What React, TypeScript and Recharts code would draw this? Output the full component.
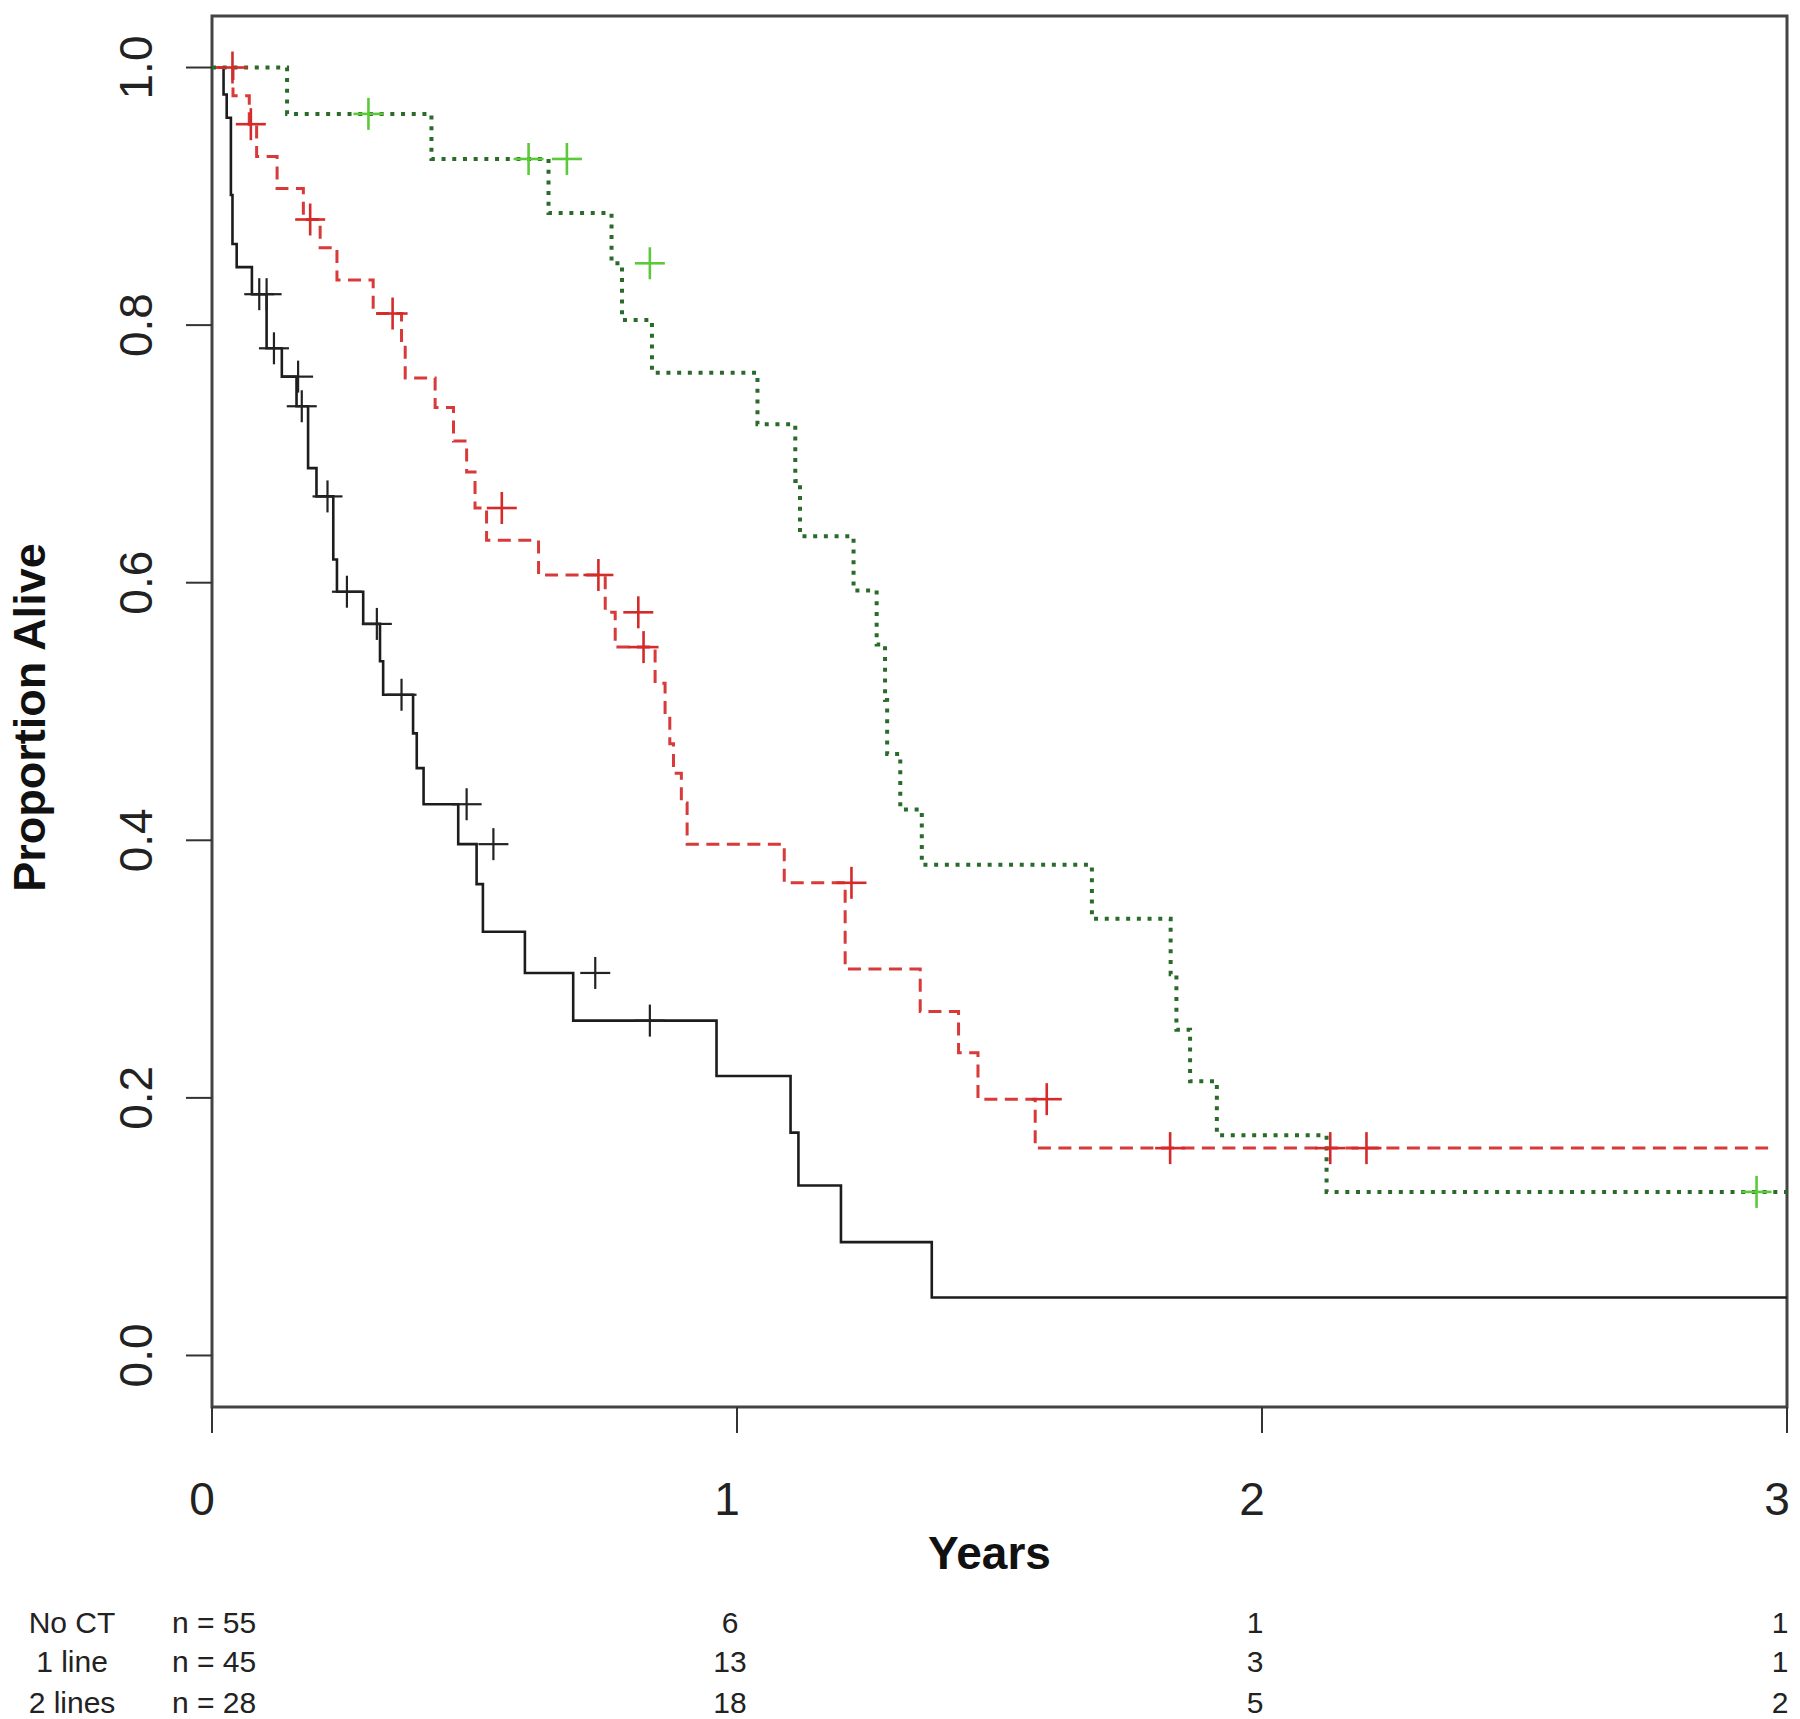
import { ComposedChart, Line, Scatter, XAxis, YAxis, ReferenceArea, Label } from 'recharts'

// Kaplan-Meier step points (time in years, proportion alive)
const noCtTime = [0, 0.022, 0.028, 0.036, 0.039, 0.047, 0.076, 0.104, 0.133, 0.161, 0.183, 0.199, 0.231, 0.238, 0.288, 0.32, 0.326, 0.383, 0.39, 0.403, 0.469, 0.504, 0.516, 0.596, 0.688, 0.961, 1.102, 1.117, 1.198, 1.371, 3.0]
const noCtSurv = [1.0, 0.979, 0.961, 0.901, 0.863, 0.845, 0.824, 0.782, 0.76, 0.737, 0.689, 0.667, 0.618, 0.593, 0.568, 0.539, 0.513, 0.483, 0.456, 0.428, 0.397, 0.366, 0.329, 0.297, 0.26, 0.217, 0.173, 0.132, 0.088, 0.045, 0.045]
const noCtCensorTime = [0.09, 0.104, 0.118, 0.164, 0.171, 0.22, 0.257, 0.314, 0.361, 0.485, 0.536, 0.73, 0.834]
const noCtCensorSurv = [0.824, 0.824, 0.782, 0.76, 0.737, 0.667, 0.593, 0.568, 0.513, 0.428, 0.397, 0.297, 0.26]

const oneLineTime = [0, 0.04, 0.071, 0.085, 0.124, 0.174, 0.206, 0.238, 0.307, 0.361, 0.368, 0.425, 0.46, 0.485, 0.501, 0.523, 0.622, 0.749, 0.768, 0.844, 0.863, 0.872, 0.879, 0.894, 0.905, 1.09, 1.206, 1.349, 1.422, 1.459, 1.568, 2.964]
const oneLineSurv = [1.0, 0.978, 0.956, 0.931, 0.906, 0.882, 0.86, 0.835, 0.809, 0.784, 0.759, 0.736, 0.71, 0.686, 0.658, 0.633, 0.606, 0.577, 0.55, 0.522, 0.497, 0.475, 0.452, 0.429, 0.397, 0.367, 0.3, 0.267, 0.235, 0.199, 0.161, 0.161]
const oneLineCensorTime = [0.039, 0.074, 0.187, 0.344, 0.552, 0.736, 0.812, 0.822, 1.218, 1.59, 1.825, 2.13, 2.199]
const oneLineCensorSurv = [1.0, 0.956, 0.882, 0.809, 0.658, 0.606, 0.577, 0.55, 0.367, 0.199, 0.161, 0.161, 0.161]

const twoLinesTime = [0, 0.143, 0.418, 0.641, 0.761, 0.781, 0.838, 1.039, 1.111, 1.12, 1.222, 1.266, 1.282, 1.286, 1.311, 1.352, 1.676, 1.826, 1.837, 1.863, 1.914, 2.123, 3.0]
const twoLinesSurv = [1.0, 0.964, 0.929, 0.887, 0.848, 0.804, 0.763, 0.723, 0.679, 0.636, 0.594, 0.552, 0.509, 0.467, 0.424, 0.381, 0.339, 0.296, 0.253, 0.213, 0.171, 0.127, 0.127]
const twoLinesCensorTime = [0.298, 0.603, 0.676, 0.834, 2.942]
const twoLinesCensorSurv = [0.964, 0.929, 0.929, 0.848, 0.127]

// number at risk table
const riskGroups = ['No CT', '1 line', '2 lines']
const riskTimes = [0, 1, 2, 3]
const riskNoCt = [55, 6, 1, 1]
const riskOneLine = [45, 13, 3, 1]
const riskTwoLines = [28, 18, 5, 2]
const riskRows = [riskNoCt, riskOneLine, riskTwoLines]

const yTicks = [0, 0.2, 0.4, 0.6, 0.8, 1.0]

type Pt = { t: number; s: number }
const zip = (t: number[], s: number[]): Pt[] => t.map((v, i) => ({ t: v, s: s[i] }))

const FONT = '"Liberation Sans", Arial, Helvetica, sans-serif'

function Plus(props: any) {
  const { cx, cy, color, width } = props
  if (cx == null || cy == null) return null
  return (
    <g>
      <line x1={cx - 15} y1={cy} x2={cx + 15} y2={cy} stroke={color} strokeWidth={width} />
      <line x1={cx} y1={cy - 16} x2={cx} y2={cy + 16} stroke={color} strokeWidth={width} />
    </g>
  )
}

function YTick(props: any) {
  const { x, y, payload } = props
  const bx = x - 34
  return (
    <text
      transform={`translate(${bx},${y}) rotate(-90)`}
      textAnchor="middle"
      fontSize={46}
      fill="#222"
      fontFamily={FONT}
    >
      {Number(payload.value).toFixed(1)}
    </text>
  )
}

function XTick(props: any) {
  const { x, y, payload } = props
  const idx = riskTimes.indexOf(payload.value)
  const rowY = [200, 239, 280]
  return (
    <g fontFamily={FONT} fill="#222">
      <text x={x - 10} y={y + 82} textAnchor="middle" fontSize={46}>
        {payload.value}
      </text>
      {riskRows.map((row, i) =>
        idx === 0 ? (
          <g key={i}>
            <text x={x - 140} y={y + rowY[i]} textAnchor="middle" fontSize={30}>
              {riskGroups[i]}
            </text>
            <text x={x + 2} y={y + rowY[i]} textAnchor="middle" fontSize={30}>
              {`n = ${row[idx]}`}
            </text>
          </g>
        ) : (
          <text key={i} x={x - 7} y={y + rowY[i]} textAnchor="middle" fontSize={30}>
            {row[idx]}
          </text>
        )
      )}
    </g>
  )
}

function YearsLabel(props: any) {
  const vb = props.viewBox || { x: 212, y: 1407, width: 1575 }
  return (
    <text
      x={vb.x + vb.width / 2 - 10}
      y={vb.y + 162}
      textAnchor="middle"
      fontSize={46}
      fontWeight="bold"
      fill="#111"
      fontFamily={FONT}
    >
      Years
    </text>
  )
}

function PropLabel(props: any) {
  const vb = props.viewBox || { x: 0, y: 16, height: 1391 }
  const cy = vb.y + vb.height / 2 + 6
  return (
    <text
      transform={`translate(45,${cy}) rotate(-90)`}
      textAnchor="middle"
      fontSize={45}
      fontWeight="bold"
      fill="#111"
      fontFamily={FONT}
    >
      Proportion Alive
    </text>
  )
}

export default function App() {
  const noCt = zip(noCtTime, noCtSurv)
  const oneLine = zip(oneLineTime, oneLineSurv)
  const twoLines = zip(twoLinesTime, twoLinesSurv)
  const noCtCens = zip(noCtCensorTime, noCtCensorSurv)
  const oneLineCens = zip(oneLineCensorTime, oneLineCensorSurv)
  const twoLinesCens = zip(twoLinesCensorTime, twoLinesCensorSurv)

  return (
    <div style={{ position: 'absolute', left: 0, top: 0, width: 1800, height: 1719, background: '#fff' }}>
      <ComposedChart width={1800} height={1719} margin={{ top: 16, right: 13, bottom: 0, left: 0 }}>
        <XAxis
          type="number"
          dataKey="t"
          domain={[0, 3]}
          ticks={riskTimes}
          allowDataOverflow
          height={312}
          axisLine={false}
          tickLine={{ stroke: '#333', strokeWidth: 2 }}
          tickSize={26}
          tickMargin={0}
          tick={<XTick />}
          interval={0}
        >
          <Label content={<YearsLabel />} />
        </XAxis>
        <YAxis
          type="number"
          dataKey="s"
          domain={[-0.04, 1.04]}
          ticks={yTicks}
          allowDataOverflow
          width={212}
          axisLine={false}
          tickLine={{ stroke: '#333', strokeWidth: 2 }}
          tickSize={26}
          tickMargin={0}
          tick={<YTick />}
          interval={0}
        >
          <Label content={<PropLabel />} />
        </YAxis>
        <ReferenceArea
          x1={0}
          x2={3}
          y1={-0.04}
          y2={1.04}
          fill="none"
          stroke="#444"
          strokeWidth={3}
          ifOverflow="visible"
        />
        <Line
          data={noCt}
          dataKey="s"
          type="stepAfter"
          stroke="#1c1c1c"
          strokeWidth={2.6}
          dot={false}
          activeDot={false}
          isAnimationActive={false}
        />
        <Line
          data={oneLine}
          dataKey="s"
          type="stepAfter"
          stroke="#d83a3a"
          strokeWidth={3}
          strokeDasharray="13 7.5"
          dot={false}
          activeDot={false}
          isAnimationActive={false}
        />
        <Line
          data={twoLines}
          dataKey="s"
          type="stepAfter"
          stroke="#2a6a2a"
          strokeWidth={4}
          strokeDasharray="4 6.7"
          dot={false}
          activeDot={false}
          isAnimationActive={false}
        />
        <Scatter
          data={noCtCens}
          dataKey="s"
          isAnimationActive={false}
          shape={(p: any) => <Plus cx={p.cx} cy={p.cy} color="#222" width={2.2} />}
        />
        <Scatter
          data={oneLineCens}
          dataKey="s"
          isAnimationActive={false}
          shape={(p: any) => <Plus cx={p.cx} cy={p.cy} color="#d42a2a" width={2.6} />}
        />
        <Scatter
          data={twoLinesCens}
          dataKey="s"
          isAnimationActive={false}
          shape={(p: any) => <Plus cx={p.cx} cy={p.cy} color="#5cc93a" width={2.6} />}
        />
      </ComposedChart>
    </div>
  )
}
